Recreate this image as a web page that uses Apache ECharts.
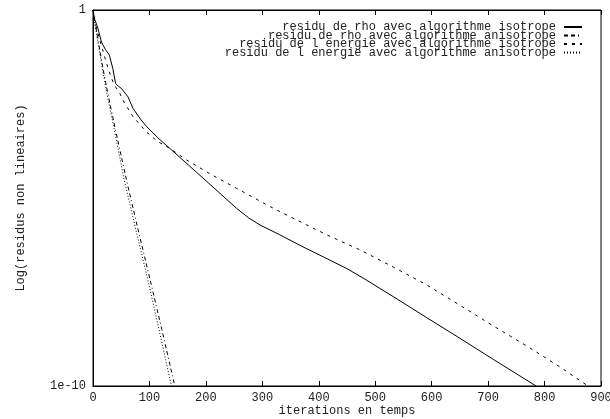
<!DOCTYPE html>
<html>
<head>
<meta charset="utf-8">
<script src="https://cdn.jsdelivr.net/npm/echarts@6/dist/echarts.min.js"></script>
<style>html,body{margin:0;padding:0;background:#fff}#c{width:610px;height:419px}</style>
</head>
<body>
<div id="c"></div>
<script>
// Series names (legend)
const seriesNames = [
  'residu de rho avec algorithme isotrope',
  'residu de rho avec algorithme anisotrope',
  'residu de l energie avec algorithme isotrope',
  'residu de l energie avec algorithme anisotrope'
];
// [iteration, residual]
const rhoIso = [[0,1],[3,0.562],[8,0.355],[15,0.141],[22,0.0891],[29,0.0631],[35,0.0282],[40,0.0112],[45,0.00933],[50,0.00832],[62,0.0049],[71,0.0024],[85,0.0012],[95,7.94e-4],[115,3.98e-4],[136,2.09e-4],[183,4.9e-5],[220,1.55e-5],[254,5.37e-6],[275,3.02e-6],[296,1.91e-6],[331,1.05e-6],[372,5.01e-7],[410,2.63e-7],[450,1.32e-7],[482,6.92e-8],[540,2.0e-8],[591,6.61e-9],[650,1.86e-9],[709,5.13e-10],[785,1e-10]];
const rhoAniso = [[0,1],[3,0.501],[8,0.1995],[17,0.0316],[26,0.00631],[40,6.31e-4],[59,3.16e-5],[80,1.41e-6],[100,7.94e-8],[122,3.16e-9],[145,1e-10]];
const energyIso = [[0,1],[3,0.501],[11,0.178],[17,0.0891],[23,0.0427],[29,0.0224],[35,0.0126],[41,0.00851],[47,0.00631],[55,0.00355],[71,0.00145],[95,5.62e-4],[115,3.16e-4],[136,2.09e-4],[166,1.02e-4],[210,4.17e-5],[254,1.82e-5],[310,6.31e-6],[372,2.14e-6],[420,9.55e-7],[473,4.17e-7],[530,1.51e-7],[591,4.9e-8],[650,1.41e-8],[709,3.98e-9],[770,1.12e-9],[828,3.16e-10],[877,1e-10]];
const energyAniso = [[0,1],[3,0.447],[8,0.158],[16,0.0316],[25,0.00562],[38,6.31e-4],[55,3.16e-5],[76,1.41e-6],[96,7.94e-8],[117,3.16e-9],[139,1e-10]];
// Axis ticks
const xMin = 0, xMax = 900, xStep = 100;
const yTickValues = [1, 1e-10];
const yTickLabels = ['1', '1e-10'];

const FONT = "'Liberation Mono','DejaVu Sans Mono',monospace";
const TXT = '#222';
const dashes = ['solid', [4,3,4,3,1,3], [3,5], [1,2]];
const datasets = [rhoIso, rhoAniso, energyIso, energyAniso];

const chart = echarts.init(document.getElementById('c'), null, {renderer: 'canvas'});
const axisCommon = {
  type: 'value', min: xMin, max: xMax, interval: xStep,
  axisLine: {show: true, lineStyle: {color: '#000', width: 1}},
  axisTick: {show: true, inside: true, length: 5, lineStyle: {color: '#000'}},
  splitLine: {show: false}
};
chart.setOption({
  animation: false,
  backgroundColor: '#fff',
  textStyle: {fontFamily: FONT},
  grid: {left: 93, right: 9, top: 10, bottom: 33, show: true, borderColor: '#000', borderWidth: 1,
         outerBoundsMode: 'none', containLabel: false},
  legend: {
    orient: 'vertical', right: 22, top: 16, align: 'right',
    itemWidth: 18, itemHeight: 8, itemGap: -3.5,
    itemStyle: {opacity: 0, color: 'rgba(0,0,0,0)', borderWidth: 0},
    textStyle: {fontFamily: FONT, fontSize: 12, color: TXT, padding: [0, 3, 0, 0]},
    data: seriesNames
  },
  xAxis: [
    Object.assign({}, axisCommon, {
      position: 'bottom',
      name: 'iterations en temps', nameLocation: 'middle', nameGap: 18.5, nameMoveOverlap: false,
      nameTextStyle: {fontFamily: FONT, fontSize: 12, color: TXT},
      axisLabel: {margin: 6, color: TXT, fontFamily: FONT, fontSize: 12}
    }),
    Object.assign({}, axisCommon, {position: 'top', axisLabel: {show: false}})
  ],
  yAxis: {
    type: 'log', logBase: 10, min: 1e-10, max: 1,
    name: 'Log(residus non lineaires)', nameLocation: 'middle', nameGap: 66, nameRotate: 90,
    nameTextStyle: {fontFamily: FONT, fontSize: 12, color: TXT},
    axisLine: {show: true, lineStyle: {color: '#000'}},
    axisTick: {show: false}, minorTick: {show: false}, splitLine: {show: false},
    axisLabel: {
      margin: 7, color: TXT, fontFamily: FONT, fontSize: 12,
      formatter: function (v) {
        for (let i = 0; i < yTickValues.length; i++) {
          if (Math.abs(Math.log10(v) - Math.log10(yTickValues[i])) < 1e-6) return yTickLabels[i];
        }
        return '';
      }
    }
  },
  series: seriesNames.map((n, i) => ({
    name: n, type: 'line', data: datasets[i], symbol: 'none', smooth: false,
    lineStyle: {color: '#000', width: 1, type: dashes[i]},
    itemStyle: {color: '#000'}
  }))
});
</script>
</body>
</html>
